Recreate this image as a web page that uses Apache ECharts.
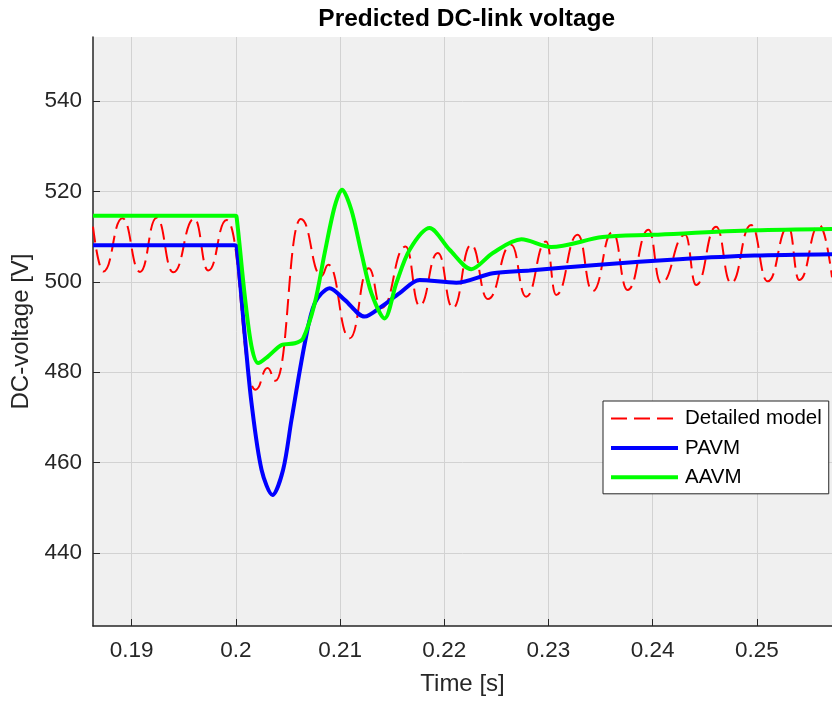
<!DOCTYPE html>
<html>
<head>
<meta charset="utf-8">
<script src="https://cdn.jsdelivr.net/npm/echarts@6/dist/echarts.min.js"></script>
<style>
  html, body { margin: 0; padding: 0; background: #fff; }
  #chart { width: 832px; height: 704px; }
</style>
</head>
<body>
<div id="chart"></div>
<script>
// values
const xTicks = [0.19, 0.2, 0.21, 0.22, 0.23, 0.24, 0.25];
const yTicks = [440, 460, 480, 500, 520, 540];

// detailed model (300 Hz ripple, peaks/troughs)
const detailedT = [0.1863, 0.18730, 0.18912, 0.19081, 0.19241, 0.19400, 0.19602, 0.19736, 0.19912, 0.20190,
  0.20305, 0.20381, 0.20624, 0.20822, 0.20887, 0.21093, 0.21275, 0.21399, 0.21629, 0.21763,
  0.21939, 0.22082, 0.22259, 0.22418, 0.22642, 0.22785, 0.22977, 0.23073, 0.23280, 0.23423,
  0.23615, 0.23759, 0.23960, 0.24079, 0.24311, 0.24417, 0.24608, 0.24752, 0.24943, 0.25103,
  0.25301, 0.25406, 0.25598, 0.2572];
const detailedV = [512.2, 502.3, 514.1, 502.2, 514.2, 502.1, 514.0, 502.5, 513.7, 476.1,
  480.9, 478.1, 513.9, 501.3, 503.8, 487.5, 503.0, 494.2, 507.8, 494.7,
  506.4, 494.2, 508.2, 496.2, 508.2, 496.7, 508.9, 497.1, 510.4, 497.9,
  511.0, 498.2, 511.5, 499.7, 510.4, 499.3, 512.2, 499.7, 512.6, 500.1,
  512.2, 500.4, 512.6, 501.0];

const pavmT = [0.1863, 0.19991, 0.20008, 0.20087, 0.20151, 0.20247, 0.20352, 0.20454, 0.20534, 0.20662,
  0.20758, 0.20901, 0.21045, 0.21236, 0.21397, 0.21572, 0.21763, 0.22115, 0.22466, 0.22817,
  0.23488, 0.24254, 0.24975, 0.2572];
const pavmV = [508.1, 508.1, 507.8, 487.9, 473.1, 458.4, 452.8, 458.4, 469.4, 486.4,
  495.3, 498.6, 496.0, 492.3, 494.5, 497.5, 500.4, 499.8, 501.9, 502.5,
  503.8, 505.0, 505.8, 506.1];

const aavmT = [0.1863, 0.19995, 0.20008, 0.20087, 0.20151, 0.20215, 0.20310, 0.20439, 0.20566, 0.20646,
  0.20758, 0.20853, 0.20949, 0.21019, 0.21109, 0.21205, 0.21301, 0.21428, 0.21540, 0.21668,
  0.21859, 0.22051, 0.22259, 0.22466, 0.22740, 0.23025, 0.23519, 0.23998, 0.24975, 0.2572];
const aavmV = [514.6, 514.6, 514.3, 496.7, 485.7, 482.0, 483.5, 486.0, 486.4, 487.5,
  495.3, 506.4, 516.7, 520.4, 515.9, 506.4, 497.5, 491.9, 499.7, 507.1,
  511.9, 507.1, 502.8, 506.4, 509.4, 507.7, 509.9, 510.4, 511.4, 511.7];

const font = '"Liberation Sans", Arial, Helvetica, sans-serif';
const axisColor = '#262626';

function zip(t, v) {
  return t.map(function (x, i) { return [x, v[i]]; });
}
function onTick(list, v) {
  return list.some(function (t) { return Math.abs(t - v) < 1e-9; });
}

const chart = echarts.init(document.getElementById('chart'), null, { renderer: 'canvas' });

const option = {
  animation: false,
  backgroundColor: '#ffffff',
  graphic: [{
    type: 'text',
    x: 466.7,
    y: 19,
    style: {
      text: 'Predicted DC-link voltage',
      font: 'bold 24.5px ' + font,
      fill: '#000000',
      align: 'center',
      verticalAlign: 'middle'
    }
  }],
  grid: {
    left: 93, right: 0, top: 37, bottom: 78,
    show: true, backgroundColor: '#f0f0f0', borderWidth: 0
  },
  legend: {
    orient: 'vertical',
    left: 603, top: 401,
    backgroundColor: '#ffffff',
    borderColor: axisColor,
    borderWidth: 1,
    borderRadius: 0,
    padding: [7, 7, 6, 6],
    itemWidth: 67,
    itemHeight: 20,
    itemGap: 8.4,
    itemStyle: { opacity: 0 },
    lineStyle: { width: 'inherit', type: 'inherit' },
    textStyle: { fontFamily: font, fontSize: 20.5, color: '#000000', lineHeight: 20, padding: [0, 0, 0, 2] },
    data: ['Detailed model', 'PAVM', 'AAVM']
  },
  xAxis: {
    type: 'value',
    min: 0.1863, max: 0.2572,
    splitNumber: 7, minInterval: 0.01, maxInterval: 0.01,
    name: 'Time [s]',
    nameLocation: 'middle',
    nameGap: 46,
    nameTextStyle: { fontFamily: font, fontSize: 24, color: axisColor },
    axisLine: { lineStyle: { color: axisColor, width: 1.5 } },
    axisTick: { inside: true, length: 7, lineStyle: { color: axisColor, width: 1 } },
    axisLabel: {
      margin: 13, fontFamily: font, fontSize: 22.5, color: axisColor,
      showMinLabel: false, showMaxLabel: false,
      formatter: function (v) { return onTick(xTicks, v) ? String(Math.round(v * 100) / 100) : ''; }
    },
    splitLine: { show: true, showMinLine: false, showMaxLine: false, lineStyle: { color: '#d2d2d2', width: 1 } }
  },
  yAxis: {
    type: 'value',
    min: 423.8, max: 554.2,
    splitNumber: 7, minInterval: 20, maxInterval: 20,
    name: 'DC-voltage [V]',
    nameLocation: 'middle',
    nameGap: 57,
    nameTextStyle: { fontFamily: font, fontSize: 24, color: axisColor },
    axisLine: { show: true, lineStyle: { color: axisColor, width: 1.5 } },
    axisTick: { show: true, inside: true, length: 7, lineStyle: { color: axisColor, width: 1 } },
    axisLabel: {
      margin: 11, fontFamily: font, fontSize: 22.5, color: axisColor,
      showMinLabel: false, showMaxLabel: false,
      formatter: function (v) { return onTick(yTicks, v) ? String(Math.round(v)) : ''; }
    },
    splitLine: { show: true, showMinLine: false, showMaxLine: false, lineStyle: { color: '#d2d2d2', width: 1 } }
  },
  series: [
    {
      name: 'Detailed model',
      type: 'line',
      data: zip(detailedT, detailedV),
      symbol: 'none',
      smooth: 0.5,
      smoothMonotone: 'x',
      lineStyle: { color: '#ff0000', width: 2, type: [16, 7] },
      itemStyle: { color: '#ff0000' },
      z: 2
    },
    {
      name: 'PAVM',
      type: 'line',
      data: zip(pavmT, pavmV),
      symbol: 'none',
      smooth: 0.3,
      lineStyle: { color: '#0000ff', width: 4 },
      itemStyle: { color: '#0000ff' },
      z: 3
    },
    {
      name: 'AAVM',
      type: 'line',
      data: zip(aavmT, aavmV),
      symbol: 'none',
      smooth: 0.3,
      lineStyle: { color: '#00ff00', width: 4 },
      itemStyle: { color: '#00ff00' },
      z: 4
    }
  ]
};

chart.setOption(option);
</script>
</body>
</html>
